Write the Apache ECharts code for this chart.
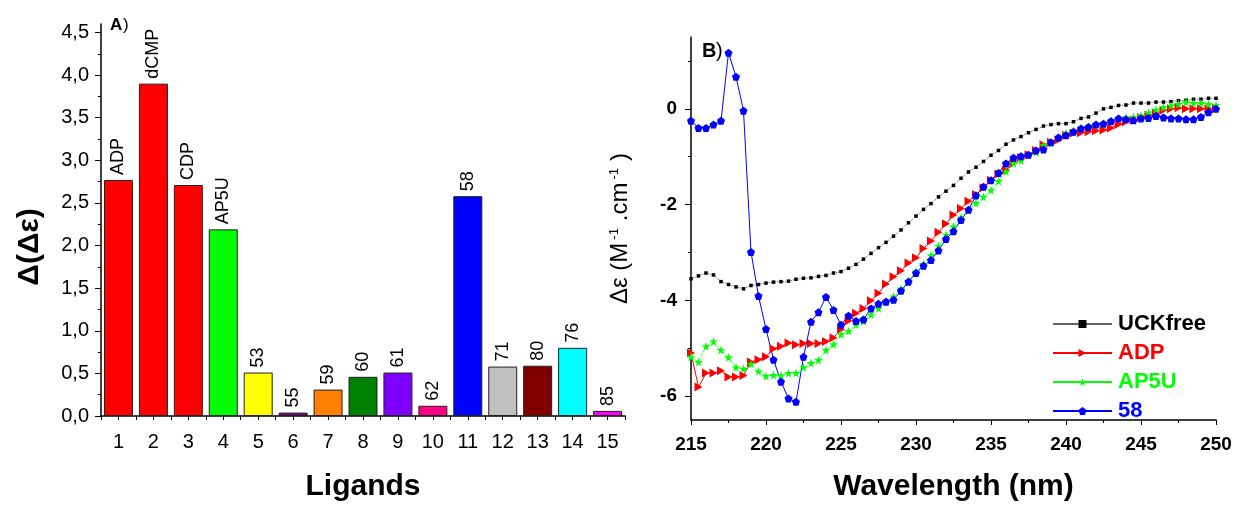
<!DOCTYPE html>
<html>
<head>
<meta charset="utf-8">
<title>CD ligands</title>
<script src="https://cdn.jsdelivr.net/npm/echarts@6/dist/echarts.min.js"></script>
<style>
    html, body { margin: 0; padding: 0; background: #fff; }
    #main { width: 1236px; height: 507px; }
</style>
</head>
<body>
<div id="main"></div>
<script>
// A) bar chart data
var ligands = ['1', '2', '3', '4', '5', '6', '7', '8', '9', '10', '11', '12', '13', '14', '15'];
var deltaDeltaEps = [2.77, 3.90, 2.71, 2.19, 0.51, 0.04, 0.31, 0.46, 0.51, 0.12, 2.58, 0.58, 0.59, 0.80, 0.06];
var barLabels = ['ADP', 'dCMP', 'CDP', 'AP5U', '53', '55', '59', '60', '61', '62', '58', '71', '80', '76', '85'];
var barColors = ['#ff0000', '#ff0000', '#ff0000', '#00ff00', '#ffff00', '#800080', '#ff8000', '#008000',
    '#8000ff', '#ff0080', '#0000ff', '#c0c0c0', '#800000', '#00ffff', '#ff00ff'];
var barTicks = [0, 0.5, 1, 1.5, 2, 2.5, 3, 3.5, 4, 4.5];
var barMinorTicks = [0.25, 0.75, 1.25, 1.75, 2.25, 2.75, 3.25, 3.75, 4.25];

// B) CD spectra data
var wavelength = [215, 215.5, 216, 216.5, 217, 217.5, 218, 218.5, 219, 219.5,
    220, 220.5, 221, 221.5, 222, 222.5, 223, 223.5, 224, 224.5,
    225, 225.5, 226, 226.5, 227, 227.5, 228, 228.5, 229, 229.5,
    230, 230.5, 231, 231.5, 232, 232.5, 233, 233.5, 234, 234.5,
    235, 235.5, 236, 236.5, 237, 237.5, 238, 238.5, 239, 239.5,
    240, 240.5, 241, 241.5, 242, 242.5, 243, 243.5, 244, 244.5,
    245, 245.5, 246, 246.5, 247, 247.5, 248, 248.5, 249, 249.5,
    250];
var uckFree = [-3.55, -3.49, -3.43, -3.47, -3.61, -3.67, -3.72, -3.76, -3.69, -3.67,
    -3.64, -3.62, -3.61, -3.60, -3.56, -3.54, -3.53, -3.50, -3.48, -3.43,
    -3.40, -3.33, -3.25, -3.14, -3.02, -2.90, -2.79, -2.66, -2.53, -2.38,
    -2.24, -2.10, -1.98, -1.84, -1.72, -1.60, -1.45, -1.32, -1.22, -1.10,
    -0.97, -0.87, -0.74, -0.65, -0.58, -0.50, -0.43, -0.36, -0.33, -0.31,
    -0.31, -0.27, -0.20, -0.17, -0.09, 0.00, 0.03, 0.07, 0.08, 0.12,
    0.12, 0.12, 0.14, 0.14, 0.15, 0.17, 0.18, 0.20, 0.20, 0.22,
    0.22];
var adp = [-5.10, -5.81, -5.52, -5.52, -5.47, -5.60, -5.60, -5.57, -5.29, -5.24,
    -5.18, -5.01, -4.96, -4.89, -4.93, -4.90, -4.90, -4.90, -4.86, -4.78,
    -4.61, -4.43, -4.27, -4.17, -4.01, -3.85, -3.66, -3.51, -3.38, -3.22,
    -3.11, -2.92, -2.76, -2.58, -2.40, -2.22, -2.08, -1.93, -1.79, -1.65,
    -1.49, -1.36, -1.28, -1.14, -1.02, -0.96, -0.87, -0.75, -0.70, -0.65,
    -0.55, -0.51, -0.50, -0.48, -0.46, -0.44, -0.40, -0.33, -0.27, -0.24,
    -0.18, -0.13, -0.09, -0.03, 0.00, 0.02, 0.00, 0.00, 0.00, 0.00,
    0.00];
var ap5u = [-5.18, -5.29, -4.96, -4.86, -5.04, -5.19, -5.40, -5.43, -5.33, -5.48,
    -5.58, -5.56, -5.57, -5.52, -5.52, -5.40, -5.31, -5.25, -5.04, -4.92,
    -4.71, -4.64, -4.51, -4.44, -4.30, -4.17, -4.02, -3.92, -3.76, -3.59,
    -3.40, -3.24, -3.06, -2.86, -2.63, -2.46, -2.27, -2.12, -1.97, -1.84,
    -1.70, -1.51, -1.31, -1.14, -1.08, -0.97, -0.91, -0.76, -0.72, -0.60,
    -0.51, -0.46, -0.42, -0.38, -0.34, -0.31, -0.25, -0.20, -0.18, -0.17,
    -0.14, -0.08, -0.02, 0.03, 0.07, 0.10, 0.14, 0.12, 0.12, 0.10,
    0.08];
var lig58 = [-0.25, -0.40, -0.40, -0.33, -0.25, 1.17, 0.67, -0.04, -2.99, -3.91,
    -4.60, -5.24, -5.70, -6.05, -6.12, -5.18, -4.45, -4.25, -3.93, -4.20,
    -4.51, -4.32, -4.43, -4.40, -4.17, -4.07, -4.03, -3.99, -3.80, -3.61,
    -3.43, -3.28, -3.16, -2.96, -2.72, -2.56, -2.32, -2.11, -1.81, -1.63,
    -1.49, -1.34, -1.14, -1.02, -0.99, -0.96, -0.87, -0.85, -0.70, -0.60,
    -0.55, -0.48, -0.41, -0.38, -0.33, -0.31, -0.26, -0.20, -0.22, -0.24,
    -0.20, -0.19, -0.15, -0.18, -0.20, -0.20, -0.22, -0.22, -0.17, -0.07,
    0.00];
var wlLabels = [215, 220, 225, 230, 235, 240, 245, 250];
var wlMinorTicks = [217.5, 222.5, 227.5, 232.5, 237.5, 242.5, 247.5];
var epsLabels = [-6, -4, -2, 0];
var epsMinorTicks = [-5, -3, -1, 1];

var FONT = 'Arial, "Liberation Sans", sans-serif';

function pairs(ys) {
    return wavelength.map(function (w, i) { return [w, ys[i]]; });
}

// marker shapes
var triRight = 'path://M0,0 L10,5 L0,10 Z';
var star = 'path://M50,0 L61,35 L98,35 L68,57 L79,91 L50,70 L21,91 L32,57 L2,35 L39,35 Z';
var pentagon = 'path://M50,0 L98,35 L79,91 L21,91 L2,35 Z';

var myChart = echarts.init(document.getElementById('main'));

var option = {
    backgroundColor: '#fff',
    animation: false,
    textStyle: { fontFamily: FONT },
    grid: [
        { left: 101, top: 24, width: 524, height: 397 },
        { left: 691, top: 37, width: 525, height: 389 }
    ],
    legend: {
        orient: 'vertical',
        left: 1047,
        top: 308,
        itemWidth: 59,
        itemHeight: 10,
        itemGap: 7,
        lineStyle: { type: 'solid' },
        textStyle: { fontFamily: FONT, fontSize: 22, fontWeight: 'bold', padding: [0, 0, 0, 1] },
        data: [
            { name: 'UCKfree', textStyle: { color: '#000' }, lineStyle: { color: '#666' } },
            { name: 'ADP', textStyle: { color: '#ff0000' } },
            { name: 'AP5U', textStyle: { color: '#00ff00' } },
            { name: '58', textStyle: { color: '#0000ff' } }
        ]
    },
    graphic: [
        { type: 'text', left: 110, top: 17, style: { text: 'A', font: 'bold 17px ' + FONT, fill: '#000' } },
        { type: 'text', left: 123, top: 17, style: { text: ')', font: '17px ' + FONT, fill: '#000' } },
        { type: 'text', left: 702, top: 41, style: { text: 'B', font: 'bold 20px ' + FONT, fill: '#000' } },
        { type: 'text', left: 716, top: 41, style: { text: ')', font: '20px ' + FONT, fill: '#000' } },
        {
            type: 'text', x: 30, y: 247, rotation: Math.PI / 2,
            style: { text: 'Δ(Δε)', font: 'bold 30px ' + FONT, fill: '#000', align: 'center', verticalAlign: 'middle' }
        }
    ],
    xAxis: [
        {
            gridIndex: 0,
            type: 'category',
            data: ligands,
            name: 'Ligands',
            nameLocation: 'middle',
            nameGap: 56,
            nameTextStyle: { fontFamily: FONT, fontSize: 30, fontWeight: 'bold', color: '#000' },
            axisLine: { lineStyle: { color: '#000', width: 1.5 } },
            axisTick: { show: false },
            axisLabel: { color: '#000', fontSize: 20, margin: 16, fontFamily: FONT },
            splitLine: { show: false }
        },
        {
            // ticks at every half category
            gridIndex: 0,
            type: 'value',
            position: 'bottom',
            min: 0.5,
            max: 15.5,
            interval: 0.5,
            axisLine: { show: false },
            axisTick: { show: true, length: 4, lineStyle: { color: '#000' } },
            axisLabel: { show: false },
            splitLine: { show: false }
        },
        {
            gridIndex: 1,
            type: 'value',
            min: 215,
            max: 250,
            name: 'Wavelength (nm)',
            nameLocation: 'middle',
            nameGap: 52,
            nameTextStyle: { fontFamily: FONT, fontSize: 30, fontWeight: 'bold', color: '#000' },
            axisLine: { onZero: false, lineStyle: { color: '#000', width: 1.5 } },
            axisTick: { show: true, length: 5, customValues: wlLabels, lineStyle: { color: '#000' } },
            axisLabel: { color: '#000', fontSize: 19, fontWeight: 'bold', margin: 15, customValues: wlLabels, fontFamily: FONT },
            splitLine: { show: false }
        },
        {
            gridIndex: 1,
            type: 'value',
            position: 'bottom',
            min: 215,
            max: 250,
            axisLine: { show: false, onZero: false },
            axisTick: { show: true, length: 3, customValues: wlMinorTicks, lineStyle: { color: '#000' } },
            axisLabel: { show: false },
            splitLine: { show: false }
        }
    ],
    yAxis: [
        {
            gridIndex: 0,
            type: 'value',
            min: 0,
            max: 4.6,
            axisLine: { show: true, lineStyle: { color: '#000', width: 1.5 } },
            axisTick: { show: true, length: 6, customValues: barTicks, lineStyle: { color: '#000' } },
            axisLabel: {
                color: '#000', fontSize: 20, margin: 12, customValues: barTicks, fontFamily: FONT,
                formatter: function (v) { return v.toFixed(1).replace('.', ','); }
            },
            splitLine: { show: false }
        },
        {
            gridIndex: 0,
            type: 'value',
            position: 'left',
            min: 0,
            max: 4.6,
            axisLine: { show: false },
            axisTick: { show: true, length: 3, customValues: barMinorTicks, lineStyle: { color: '#000' } },
            axisLabel: { show: false },
            splitLine: { show: false }
        },
        {
            gridIndex: 1,
            type: 'value',
            min: -6.5,
            max: 1.5,
            name: 'Δε (M{sup|-1}.cm{sup|-1})',
            nameLocation: 'middle',
            nameGap: 58,
            nameTextStyle: {
                fontFamily: FONT, fontSize: 24, color: '#000',
                rich: { sup: { fontFamily: FONT, fontSize: 13, verticalAlign: 'top', color: '#000', padding: [0, 7, 12, 3] } }
            },
            axisLine: { show: true, onZero: false, lineStyle: { color: '#000', width: 1.5 } },
            axisTick: { show: true, length: 6, customValues: epsLabels, lineStyle: { color: '#000' } },
            axisLabel: {
                color: '#000', fontSize: 19, fontWeight: 'bold', margin: 14, customValues: epsLabels, fontFamily: FONT
            },
            splitLine: { show: false }
        },
        {
            gridIndex: 1,
            type: 'value',
            position: 'left',
            min: -6.5,
            max: 1.5,
            axisLine: { show: false, onZero: false },
            axisTick: { show: true, length: 3, customValues: epsMinorTicks, lineStyle: { color: '#000' } },
            axisLabel: { show: false },
            splitLine: { show: false }
        }
    ],
    series: [
        {
            name: 'Ligand response',
            type: 'bar',
            xAxisIndex: 0,
            yAxisIndex: 0,
            barCategoryGap: '17%',
            data: deltaDeltaEps.map(function (v, i) {
                return { value: v, itemStyle: { color: barColors[i] } };
            }),
            itemStyle: { borderColor: '#222', borderWidth: 1 },
            label: {
                show: true,
                position: 'top',
                rotate: 90,
                align: 'left',
                verticalAlign: 'middle',
                distance: 5,
                fontSize: 18,
                fontFamily: FONT,
                color: '#000',
                formatter: function (p) { return barLabels[p.dataIndex]; }
            }
        },
        {
            name: 'UCKfree',
            type: 'line',
            xAxisIndex: 2,
            yAxisIndex: 2,
            data: pairs(uckFree),
            color: '#000',
            symbol: 'rect',
            symbolSize: 3.5,
            lineStyle: { color: '#555', width: 1, type: 'dotted' },
            itemStyle: { color: '#000' }
        },
        {
            name: 'ADP',
            type: 'line',
            xAxisIndex: 2,
            yAxisIndex: 2,
            data: pairs(adp),
            color: '#ff0000',
            symbol: triRight,
            symbolSize: [8, 9],
            lineStyle: { color: '#ff0000', width: 1 },
            itemStyle: { color: '#ff0000' }
        },
        {
            name: 'AP5U',
            type: 'line',
            xAxisIndex: 2,
            yAxisIndex: 2,
            data: pairs(ap5u),
            color: '#00ff00',
            symbol: star,
            symbolSize: 9,
            lineStyle: { color: '#00ff00', width: 1, type: 'dotted' },
            itemStyle: { color: '#00ff00' }
        },
        {
            name: '58',
            type: 'line',
            xAxisIndex: 2,
            yAxisIndex: 2,
            data: pairs(lig58),
            color: '#0000ff',
            symbol: pentagon,
            symbolSize: 8,
            lineStyle: { color: '#0000ff', width: 1 },
            itemStyle: { color: '#0000ff' }
        }
    ]
};

myChart.setOption(option);
</script>
</body>
</html>
